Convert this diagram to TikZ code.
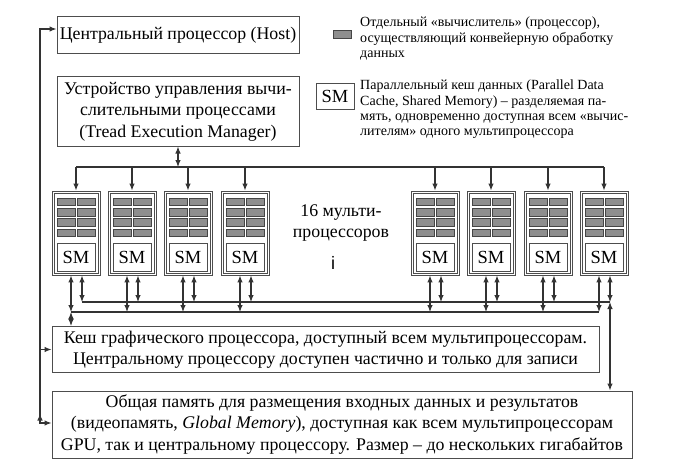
\documentclass[tikz,border=0pt]{standalone}
\usepackage{fontspec}
\setmainfont{Liberation Serif}
\newfontfamily\sansi{Liberation Sans}
\usetikzlibrary{arrows.meta,calc}
\definecolor{ln}{HTML}{333333}
\definecolor{bx}{HTML}{4D4D4D}
\definecolor{cellf}{HTML}{8E8E8E}
\definecolor{cellb}{HTML}{454545}
\begin{document}
\begin{tikzpicture}[x=1pt,y=-1pt,
  mainbox/.style={draw=bx,line width=1pt,inner sep=0pt,align=center,font=\fontsize{17.8}{21.5}\selectfont},
  mpbox/.style={draw=bx,line width=0.9pt,minimum width=48pt,minimum height=84pt,inner sep=0pt},
  smbox/.style={draw=bx,line width=0.9pt,fill=white,minimum width=38pt,minimum height=28pt,inner sep=0pt,font=\fontsize{18.5}{18.5}\selectfont},
  cell/.style={draw=cellb,fill=cellf,line width=0.7pt},
  conn/.style={draw=ln,line width=1.1pt},
  arr/.style={conn,-{Latex[length=7pt,width=5.5pt]}},
  darr/.style={conn,{Latex[length=7pt,width=5.5pt]}-{Latex[length=7pt,width=5.5pt]}},
  legtext/.style={inner sep=0pt,align=left,anchor=west,font=\fontsize{14}{15.3}\selectfont}
]
\useasboundingbox (0,0) rectangle (685,468);
% main boxes
\node[mainbox,minimum width=242pt,minimum height=37pt] (host) at (178,35.5) {Центральный процессор (Host)};
\node[mainbox,minimum width=242pt,minimum height=69pt] (tem) at (178,111.5) {Устройство управления вычи-\\слительными процессами\\(Tread Execution Manager)};
\node[mainbox,minimum width=547pt,minimum height=46pt] (cache) at (325.5,349.5) {Кеш графического процессора, доступный всем мультипроцессорам.\\Центральному процессору доступен частично и только для записи};
\node[mainbox,minimum width=580pt,minimum height=67pt] (glob) at (342,424.5) {Общая память для размещения входных данных и результатов\\(видеопамять, \textit{Global Memory}), доступная как всем мультипроцессорам\\GPU, так и центральному процессору. Размер -- до нескольких гигабайтов};
% legend
\node[cell,minimum width=18pt,minimum height=8pt,inner sep=0pt] (legcell) at (342,34) {};
\node[legtext] (legt1) at (360,38.5) {Отдельный «вычислитель» (процессор),\\осуществляющий конвейерную обработку\\данных};
\node[smbox,minimum height=26pt] (legsm) at (335,96) {SM};
\node[legtext] (legt2) at (360,109.5) {Параллельный кеш данных (Parallel Data\\Cache, Shared Memory) -- разделяемая па-\\мять, одновременно доступная всем «вычис-\\лителям» одного мультипроцессора};
% label
\node[inner sep=0pt,align=center,font=\fontsize{17.8}{21}\selectfont] (lbl) at (341,223) {16 мульти-\\процессоров};
\node[inner sep=0pt,font=\sansi\fontsize{18}{18}\selectfont] (dots) at (333,263) {i};
% bus coordinates
\coordinate (topbus) at (0,167);
\coordinate (ubus) at (0,302);
\coordinate (lbus) at (0,312);
\coordinate (lx) at (40,0);
% multiprocessors
\foreach \cx [count=\i] in {76,132,188,245,435,491,548,604} {
  \node[mpbox] (mp\i) at (\cx,233) {};
  \draw[bx,line width=0.7pt] ($(mp\i.north west)+(2.3,2.3)$) rectangle ($(mp\i.south east)+(-2.3,-2.3)$);
  \foreach \r in {0,1,2,3} {
    \pgfmathsetmacro{\ty}{198+\r*10.4}
    \draw[cell] (\cx-19,\ty) rectangle (\cx-1,\ty+7.6);
    \draw[cell] (\cx+1,\ty) rectangle (\cx+19,\ty+7.6);
  }
  \node[smbox] (sm\i) at (\cx,257) {SM};
  \draw[arr] (mp\i.north |- topbus) -- (mp\i.north);
  \draw[darr] ([xshift=-5pt]mp\i.south) -- ([xshift=-5pt]mp\i.south |- lbus);
  \draw[darr] ([xshift=6pt]mp\i.south) -- ([xshift=6pt]mp\i.south |- ubus);
}
% buses
\draw[conn] (mp1.north |- topbus) -- (mp8.north |- topbus);
\draw[darr] (tem.south) -- (tem.south |- topbus);
\draw[conn,line width=2pt] ([xshift=-5pt]mp1.south |- lbus) -- ([xshift=-5pt]mp8.south |- lbus);
\draw[conn] ([xshift=6pt]mp1.south |- ubus) -- ([xshift=6pt]mp8.south |- ubus);
\draw[darr] ([xshift=-5pt]mp1.south |- lbus) -- ([xshift=-5pt]mp1.south |- cache.north);
\draw[darr] ([xshift=6pt]mp8.south |- ubus) -- ([xshift=6pt]mp8.south |- glob.north);
% left line
\draw[darr] ([yshift=1.5pt]glob.west) -- ([yshift=1.5pt]glob.west -| lx) -- ([yshift=6.5pt]host.west -| lx) -- ([yshift=6.5pt]host.west);
\draw[arr] (cache.west -| lx) -- (cache.west);
\coordinate (upm) at ([yshift=11pt]glob.west -| lx);
\draw[arr] ([yshift=1.5pt]glob.west -| lx) -- (upm);
\end{tikzpicture}
\end{document}
